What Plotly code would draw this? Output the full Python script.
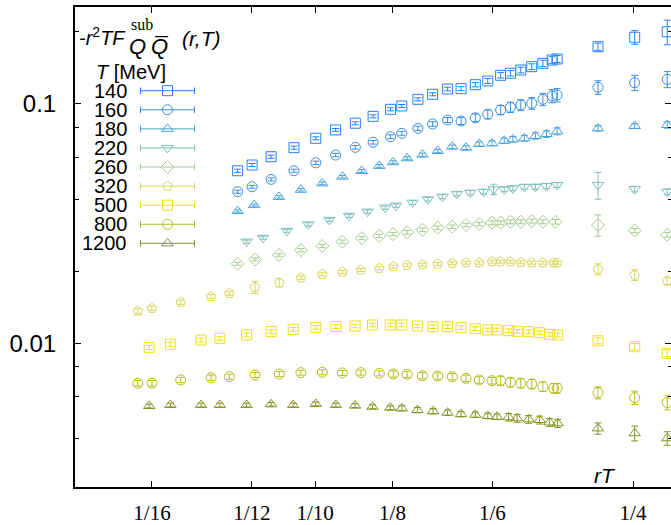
import plotly.graph_objects as go

# ---------------- data ----------------
temps = ["140", "160", "180", "220", "260", "320", "500", "800", "1200"]
colors = ["#2680f4", "#388ee4", "#4aa2d6", "#7cbfbc", "#a4cc8d", "#dad65c", "#f2dc1a", "#b7bd1c", "#86921f"]
symbols = ["square-open", "circle-open", "triangle-up-open", "triangle-down-open", "diamond-open",
           "pentagon-open", "square-open", "circle-open", "triangle-up-open"]

x140 = [0.0800, 0.0834, 0.0881, 0.0941, 0.1002, 0.1061, 0.1123, 0.1182, 0.1243, 0.1284, 0.1345, 0.1403, 0.1465,
        0.1523, 0.1587, 0.1645, 0.1707, 0.1756, 0.1809, 0.1867, 0.1928, 0.1980, 0.2009, 0.2260, 0.2512, 0.2759]
y140 = [0.0526, 0.0556, 0.0602, 0.0657, 0.0719, 0.0779, 0.0831, 0.0888, 0.0950, 0.0981, 0.1046, 0.1098, 0.1155,
        0.1159, 0.1204, 0.1248, 0.1318, 0.1344, 0.1387, 0.1432, 0.1479, 0.1527, 0.1542, 0.1736, 0.1900, 0.2005]
e140 = [0.0008, 0.0008, 0.0009, 0.0010, 0.0010, 0.0011, 0.0012, 0.0013, 0.0014, 0.0014, 0.0015, 0.0016, 0.0020,
        0.0022, 0.0025, 0.0030, 0.0034, 0.0035, 0.0038, 0.0040, 0.0044, 0.0048, 0.0052, 0.0060, 0.0125, 0.0236]

x160 = list(x140)
y160 = [0.0430, 0.0451, 0.0484, 0.0526, 0.0568, 0.0612, 0.0659, 0.0692, 0.0730, 0.0754, 0.0791, 0.0825, 0.0857,
        0.0849, 0.0876, 0.0906, 0.0944, 0.0969, 0.0990, 0.1007, 0.1046, 0.1080, 0.1090, 0.1174, 0.1227, 0.1268]
e160 = [0.0006, 0.0006, 0.0007, 0.0008, 0.0009, 0.0010, 0.0011, 0.0012, 0.0013, 0.0014, 0.0016, 0.0018, 0.0020,
        0.0028, 0.0032, 0.0038, 0.0042, 0.0048, 0.0052, 0.0056, 0.0062, 0.0068, 0.0070, 0.0077, 0.0089, 0.0098]

x180 = [0.0800, 0.0839, 0.0901, 0.0960, 0.1021, 0.1082, 0.1144, 0.1203, 0.1252, 0.1304, 0.1363, 0.1424, 0.1485,
        0.1545, 0.1605, 0.1665, 0.1725, 0.1768, 0.1828, 0.1887, 0.1948, 0.2009, 0.2260, 0.2512, 0.2759]
y180 = [0.0357, 0.0378, 0.0409, 0.0438, 0.0466, 0.0497, 0.0525, 0.0551, 0.0571, 0.0593, 0.0614, 0.0636, 0.0663,
        0.0657, 0.0681, 0.0685, 0.0702, 0.0712, 0.0719, 0.0735, 0.0749, 0.0769, 0.0791, 0.0809, 0.0817]
e180 = [0.0004, 0.0004, 0.0005, 0.0005, 0.0006, 0.0006, 0.0007, 0.0007, 0.0008, 0.0008, 0.0009, 0.0010, 0.0011,
        0.0012, 0.0014, 0.0016, 0.0018, 0.0019, 0.0020, 0.0022, 0.0024, 0.0026, 0.0020, 0.0018, 0.0025]

x220 = [0.0821, 0.0861, 0.0922, 0.0981, 0.1042, 0.1103, 0.1163, 0.1224, 0.1263, 0.1324, 0.1384, 0.1444, 0.1505,
        0.1564, 0.1625, 0.1673, 0.1725, 0.1768, 0.1828, 0.1887, 0.1948, 0.2009, 0.2260, 0.2512, 0.2759]
y220 = [0.0266, 0.0276, 0.0295, 0.0314, 0.0328, 0.0341, 0.0355, 0.0369, 0.0376, 0.0387, 0.0400, 0.0410, 0.0421,
        0.0426, 0.0430, 0.0440, 0.0440, 0.0444, 0.0451, 0.0451, 0.0454, 0.0459, 0.0459, 0.0441, 0.0430]
e220 = [0.0004, 0.0004, 0.0004, 0.0005, 0.0005, 0.0005, 0.0006, 0.0006, 0.0006, 0.0007, 0.0007, 0.0008, 0.0008,
        0.0009, 0.0009, 0.0022, 0.0010, 0.0010, 0.0010, 0.0011, 0.0011, 0.0011, 0.0059, 0.0012, 0.0012]

x260 = [0.0800, 0.0841, 0.0901, 0.0960, 0.1021, 0.1082, 0.1144, 0.1203, 0.1252, 0.1304, 0.1363, 0.1424, 0.1485,
        0.1545, 0.1605, 0.1665, 0.1707, 0.1756, 0.1809, 0.1867, 0.1928, 0.1999, 0.2260, 0.2512, 0.2759]
y260 = [0.0215, 0.0224, 0.0234, 0.0245, 0.0255, 0.0266, 0.0275, 0.0281, 0.0286, 0.0291, 0.0298, 0.0304, 0.0307,
        0.0312, 0.0315, 0.0319, 0.0319, 0.0322, 0.0322, 0.0324, 0.0322, 0.0322, 0.0312, 0.0296, 0.0284]
e260 = [0.0003, 0.0003, 0.0003, 0.0004, 0.0004, 0.0004, 0.0004, 0.0004, 0.0004, 0.0005, 0.0005, 0.0005, 0.0005,
        0.0005, 0.0005, 0.0006, 0.0006, 0.0006, 0.0006, 0.0006, 0.0006, 0.0007, 0.0032, 0.0006, 0.0006]

x320 = [0.0600, 0.0625, 0.0679, 0.0741, 0.0781, 0.0841, 0.0902, 0.0960, 0.1021, 0.1082, 0.1141, 0.1203, 0.1253,
        0.1304, 0.1363, 0.1424, 0.1485, 0.1545, 0.1605, 0.1665, 0.1707, 0.1756, 0.1809, 0.1867, 0.1928, 0.1989,
        0.2009, 0.2260, 0.2512, 0.2759]
y320 = [0.01364, 0.01400, 0.01484, 0.01566, 0.01618, 0.01714, 0.01791, 0.01880, 0.01942, 0.01986, 0.02025, 0.02058,
        0.02090, 0.02118, 0.02130, 0.02145, 0.02159, 0.02172, 0.02172, 0.02193, 0.02193, 0.02193, 0.02180, 0.02172,
        0.02172, 0.02172, 0.02172, 0.02038, 0.01930, 0.01821]
e320 = [0.0003, 0.0003, 0.0003, 0.0003, 0.0003, 0.0010, 0.0007, 0.0003, 0.0003, 0.0003, 0.0003, 0.0003, 0.0003,
        0.0003, 0.0003, 0.0003, 0.0003, 0.0003, 0.0003, 0.0003, 0.0003, 0.0003, 0.0003, 0.0003, 0.0003, 0.0003,
        0.0003, 0.0011, 0.0010, 0.0006]

x500 = [0.0620, 0.0659, 0.0720, 0.0760, 0.0821, 0.0881, 0.0939, 0.1002, 0.1062, 0.1122, 0.1180, 0.1242, 0.1284,
        0.1343, 0.1405, 0.1465, 0.1523, 0.1587, 0.1645, 0.1689, 0.1747, 0.1790, 0.1851, 0.1910, 0.1966, 0.2012,
        0.2260, 0.2512, 0.2759]
y500 = [0.00962, 0.00991, 0.01032, 0.01049, 0.01083, 0.01118, 0.01144, 0.01166, 0.01175, 0.01181, 0.01193, 0.01193,
        0.01193, 0.01181, 0.01173, 0.01173, 0.01162, 0.01151, 0.01137, 0.01137, 0.01129, 0.01122, 0.01118, 0.01107,
        0.01090, 0.01083, 0.01025, 0.00968, 0.00908]
e500 = [0.0002] * 26 + [0.0003, 0.0003, 0.0003]

x800 = list(x320)
y800 = [0.00681, 0.00681, 0.00703, 0.00718, 0.00725, 0.00737, 0.00744, 0.00754, 0.00757, 0.00752, 0.00754, 0.00749,
        0.00744, 0.00742, 0.00732, 0.00730, 0.00725, 0.00714, 0.00703, 0.00698, 0.00698, 0.00687, 0.00681, 0.00676,
        0.00659, 0.00649, 0.00649, 0.00622, 0.00593, 0.00565]
e800 = [0.00018] * 12 + [0.00022] * 8 + [0.00030] * 7 + [0.00036, 0.00038, 0.00038]

x1200 = list(x500)
y1200 = [0.00547, 0.00552, 0.00552, 0.00552, 0.00552, 0.00556, 0.00552, 0.00558, 0.00552, 0.00549, 0.00543, 0.00538,
         0.00535, 0.00526, 0.00520, 0.00513, 0.00506, 0.00503, 0.00497, 0.00493, 0.00491, 0.00486, 0.00481, 0.00478,
         0.00467, 0.00463, 0.00441, 0.00421, 0.00401]
e1200 = [0.00010] * 12 + [0.00013] * 8 + [0.00018] * 6 + [0.00024, 0.00030, 0.00026]

series_x = [x140, x160, x180, x220, x260, x320, x500, x800, x1200]
series_y = [y140, y160, y180, y220, y260, y320, y500, y800, y1200]
series_e = [e140, e160, e180, e220, e260, e320, e500, e800, e1200]

xtick_vals = [1 / 16, 1 / 12, 1 / 10, 1 / 8, 1 / 6, 1 / 4]
xtick_text = ["1/16", "1/12", "1/10", "1/8", "1/6", "1/4"]
ytick_vals = [0.01, 0.1]
ytick_text = ["0.01", "0.1"]
yminor_vals = [0.004, 0.006, 0.008, 0.02, 0.04, 0.06, 0.08, 0.2]

# ---------------- layout constants (pixel frame of the plot area) ----------------
W, H = 671, 525
ML, MR, MT, MB = 75, 0, 7, 38
PX_L, PX_R, PX_T, PX_B = ML, W - MR, MT, H - MB

LEG_LABEL_X = 129
LEG_KEY_X = 167.5
LEG_KEY_HALF = 27
LEG_ROW0 = 90.7
LEG_STEP = 19.08

SANS = "Liberation Sans, Arial, sans-serif"
SERIF = "Liberation Serif, Times New Roman, serif"

fig = go.Figure()

for i, t in enumerate(temps):
    fig.add_trace(go.Scatter(
        x=series_x[i], y=series_y[i], mode="markers", showlegend=False,
        marker=dict(symbol=symbols[i], size=10, color=colors[i], line=dict(width=1, color=colors[i])),
        error_y=dict(type="data", array=series_e[i], color=colors[i], thickness=1, width=3.5),
        name=t,
    ))

# legend keys drawn on an overlay pixel frame
for i, t in enumerate(temps):
    yrow = LEG_ROW0 + i * LEG_STEP
    fig.add_trace(go.Scatter(
        x=[LEG_KEY_X], y=[yrow], xaxis="x2", yaxis="y2", mode="markers", showlegend=False,
        hoverinfo="skip",
        marker=dict(symbol=symbols[i], size=10, color=colors[i], line=dict(width=1, color=colors[i])),
        error_x=dict(type="constant", value=LEG_KEY_HALF, color=colors[i], thickness=1, width=3.3),
    ))


def ann(x, y, text, size, family=SANS, xanchor="left"):
    return dict(x=x, y=y, xref="x2", yref="y2", text=text, showarrow=False,
                xanchor=xanchor, yanchor="middle", font=dict(family=family, size=size, color="black"))


annotations = []
for i, t in enumerate(temps):
    annotations.append(ann(LEG_LABEL_X, LEG_ROW0 + i * LEG_STEP, t, 20, xanchor="right"))
annotations.append(ann(94, 72, "<i>T</i> [MeV]", 20))
# title text  -r^2 T F^{sub}_{Q Qbar}(r,T)
annotations.append(ann(128, 36, "<i>-r</i><sup>2</sup><i>TF</i>", 20, xanchor="right"))
annotations.append(ann(129, 24, "sub", 16, family=SERIF))
annotations.append(ann(137, 46, "<i>Q</i>", 22, xanchor="center"))
annotations.append(ann(160, 46, "<i>Q\u0305</i>", 22, xanchor="center"))
annotations.append(ann(180, 38, "<i>(r,T)</i>", 21))
annotations.append(ann(605, 475, "<i>rT</i>", 21, xanchor="center"))

fig.update_layout(
    width=W, height=H,
    margin=dict(l=ML, r=MR, t=MT, b=MB, pad=0, autoexpand=False),
    paper_bgcolor="white", plot_bgcolor="white",
    showlegend=False,
    annotations=annotations,
    xaxis=dict(
        type="log", range=[-1.30047, -0.55454], automargin=False,
        tickmode="array", tickvals=xtick_vals, ticktext=xtick_text,
        ticks="inside", ticklen=6, tickwidth=1, tickcolor="black",
        showline=True, linewidth=2, linecolor="black", mirror="ticks",
        showgrid=False, zeroline=False,
        tickfont=dict(family=SERIF, size=21, color="black"),
        ticklabelstandoff=6,
    ),
    yaxis=dict(
        type="log", range=[-2.6005, -0.5947], automargin=False,
        tickmode="array", tickvals=ytick_vals, ticktext=ytick_text,
        ticks="inside", ticklen=6, tickwidth=1, tickcolor="black",
        minor=dict(tickmode="array", tickvals=yminor_vals, ticks="inside", ticklen=3.5,
                   tickwidth=1, tickcolor="black", showgrid=False),
        showline=True, linewidth=2, linecolor="black", mirror="ticks",
        showgrid=False, zeroline=False,
        tickfont=dict(family=SANS, size=24, color="black"),
        ticklabelstandoff=12,
    ),
    xaxis2=dict(overlaying="x", range=[PX_L, PX_R], visible=False, showgrid=False, zeroline=False,
                automargin=False),
    yaxis2=dict(overlaying="y", range=[PX_B, PX_T], visible=False, showgrid=False, zeroline=False,
                automargin=False),
)

# remove the browser's default 8px page margin so the figure sits at the window origin
fig.write_html("out.html", config={"displayModeBar": False},
               post_script="document.body.style.margin='0px';document.body.style.overflow='hidden';")
